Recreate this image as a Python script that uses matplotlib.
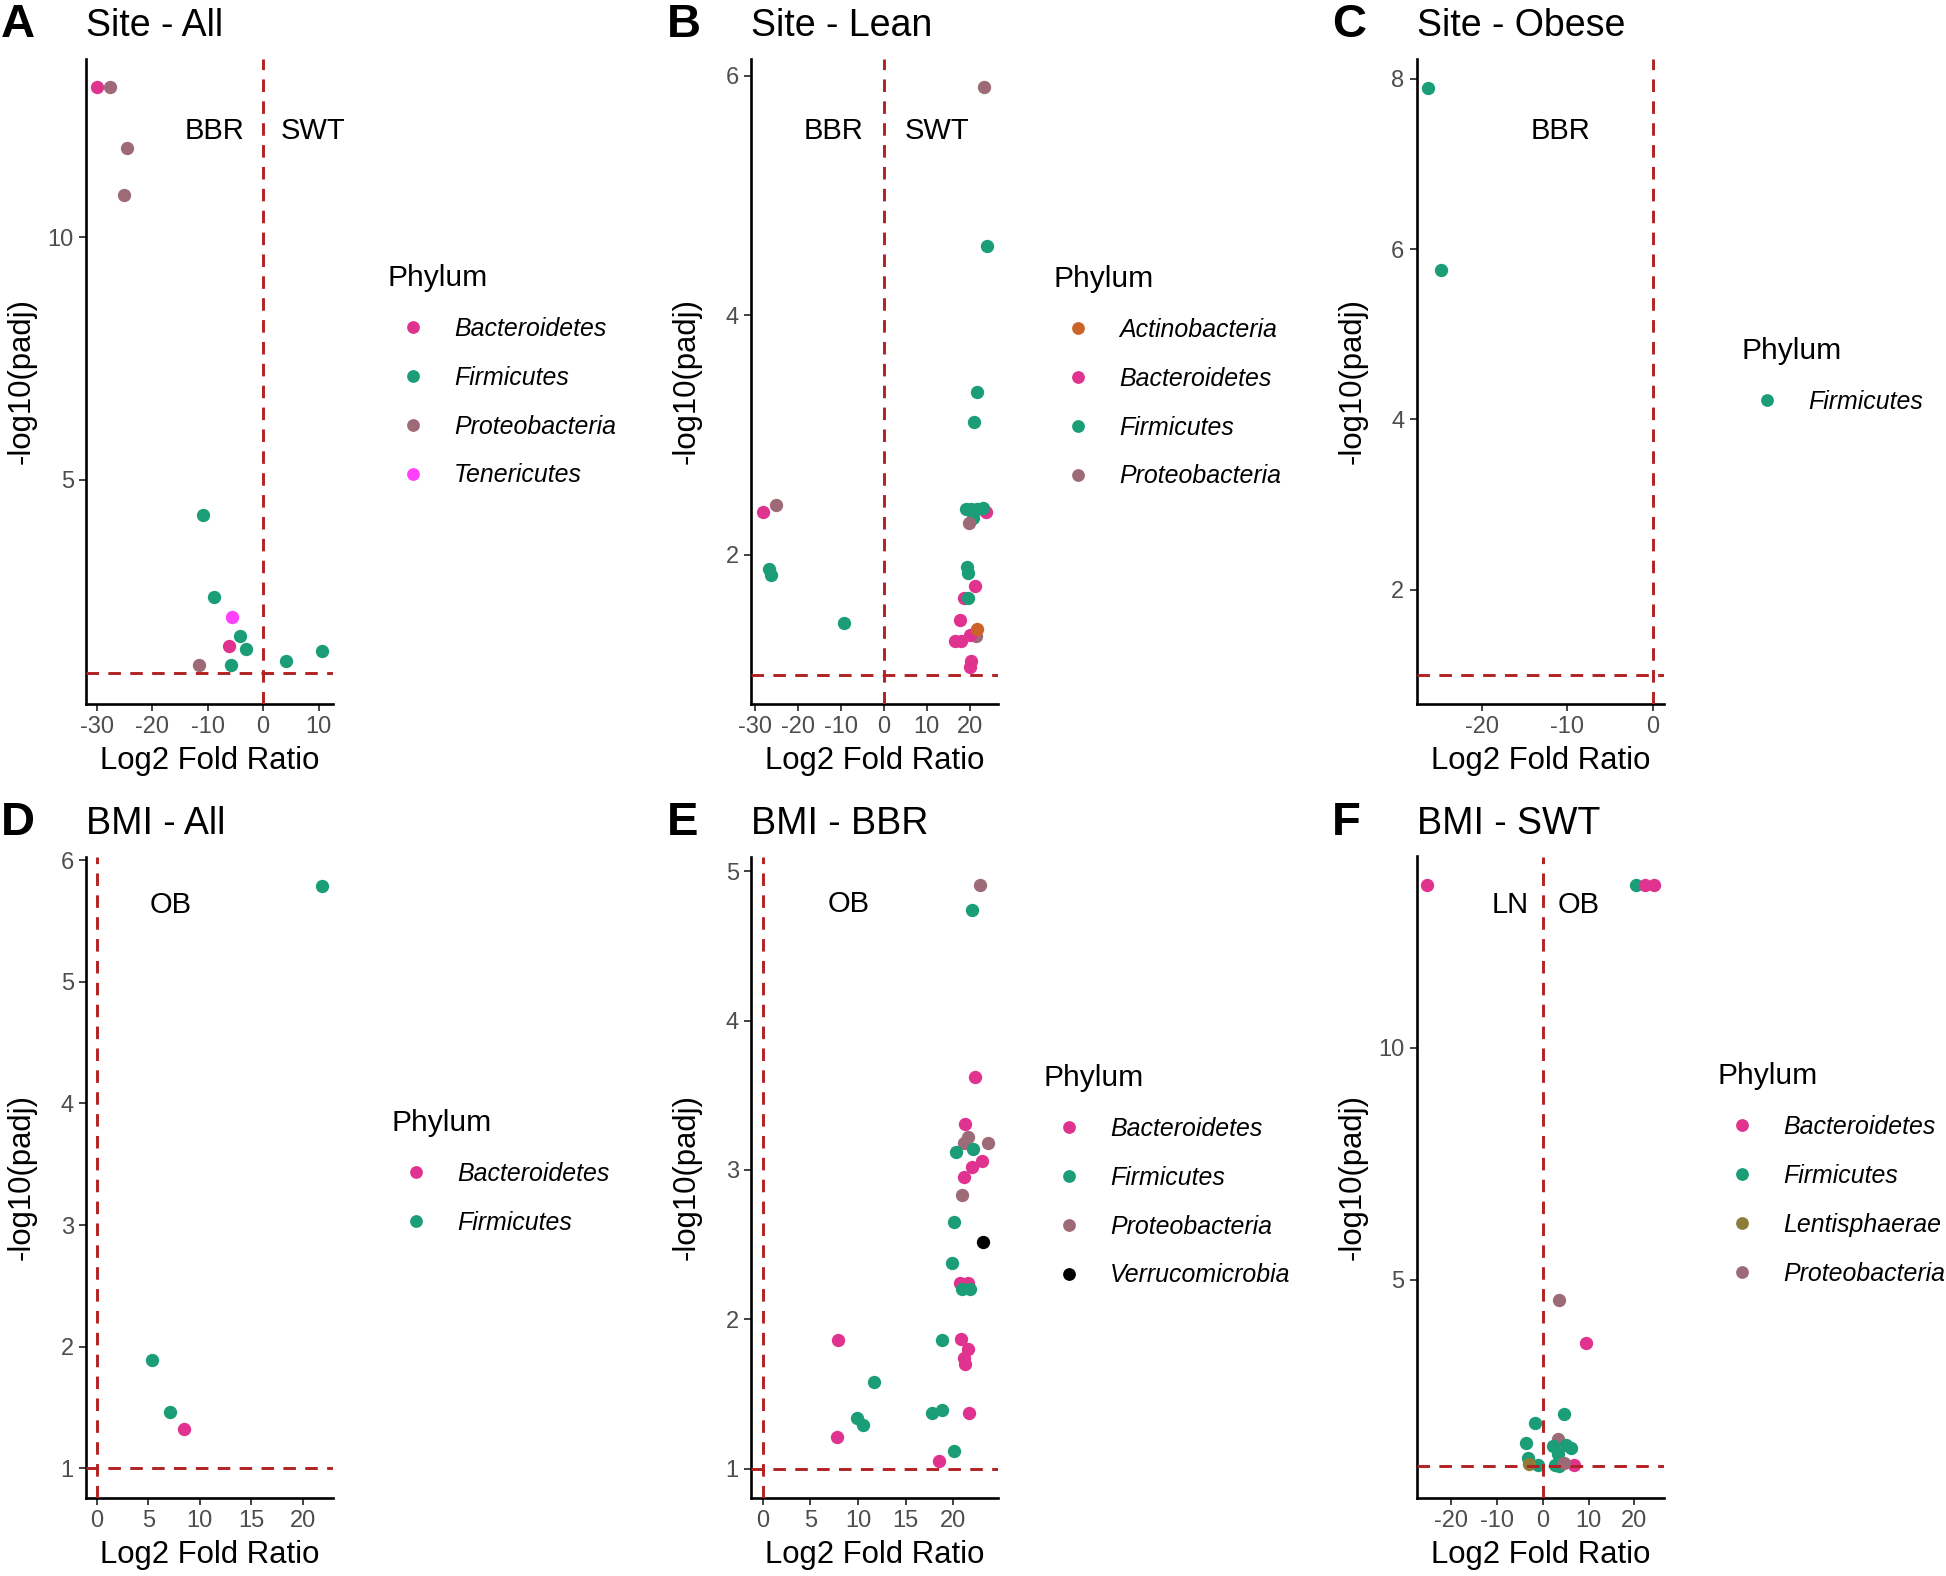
import matplotlib
matplotlib.use('Agg')
import matplotlib.pyplot as plt
from matplotlib.lines import Line2D

plt.rcParams['font.family'] = ['Liberation Sans', 'DejaVu Sans']
plt.rcParams['axes.unicode_minus'] = False

COLORS = {
    'Actinobacteria': '#CC6328',
    'Bacteroidetes': '#E0338F',
    'Firmicutes': '#1B9E77',
    'Lentisphaerae': '#8C7E3A',
    'Proteobacteria': '#9D6B77',
    'Tenericutes': '#FF40FF',
    'Verrucomicrobia': '#000000',
}
BAC, FIR, PRO, TEN, ACT, LEN, VER = ('Bacteroidetes', 'Firmicutes', 'Proteobacteria',
                                     'Tenericutes', 'Actinobacteria', 'Lentisphaerae',
                                     'Verrucomicrobia')

# ---------------- data ----------------
# A: Site - All
a_x = [-30.0, -27.6, -24.6, -25.1, -10.8, -8.8, -5.6, -4.1, -6.05, -3.0, -11.6, -5.7, 4.1, 10.6]
a_y = [13.1, 13.1, 11.85, 10.87, 4.28, 2.58, 2.17, 1.78, 1.57, 1.50, 1.17, 1.17, 1.26, 1.46]
a_phy = [BAC, PRO, PRO, PRO, FIR, FIR, TEN, FIR, BAC, FIR, PRO, FIR, FIR, FIR]

# B: Site - Lean
b_x = [23.3, 24.1, 21.8, 21.0, 23.8, 19.2, 20.4, 21.6, 23.1, 20.8, 19.8,
       19.3, 19.6, 21.2, 18.8, 19.6, 17.7, 21.4, 20.0, 21.6, 16.5, 18.1, 20.4, 20.0,
       -28.1, -25.1, -26.7, -26.3, -9.2]
b_y = [5.91, 4.58, 3.36, 3.11, 2.36, 2.38, 2.38, 2.38, 2.39, 2.31, 2.27,
       1.90, 1.85, 1.74, 1.64, 1.64, 1.46, 1.32, 1.33, 1.38, 1.28, 1.28, 1.11, 1.06,
       2.36, 2.42, 1.88, 1.83, 1.43]
b_phy = [PRO, FIR, FIR, FIR, BAC, FIR, FIR, FIR, FIR, FIR, PRO,
         FIR, FIR, BAC, BAC, FIR, BAC, PRO, BAC, ACT, BAC, BAC, BAC, BAC,
         BAC, PRO, FIR, FIR, FIR]

# C: Site - Obese
c_x = [-26.3, -24.8]
c_y = [7.89, 5.75]
c_phy = [FIR, FIR]

# D: BMI - All
d_x = [21.85, 5.35, 7.1, 8.5]
d_y = [5.79, 1.89, 1.46, 1.32]
d_phy = [FIR, FIR, FIR, BAC]

# E: BMI - BBR
e_x = [22.8, 22.0, 22.3, 21.2, 21.6, 21.1, 23.6, 22.1, 20.3, 23.0, 22.0, 21.1, 20.9,
       20.1, 23.1, 19.9, 20.7, 21.5, 20.9, 21.8, 7.9, 18.8, 20.8, 21.6, 21.1, 21.2,
       11.7, 9.9, 10.5, 17.8, 18.8, 21.7, 7.8, 20.1, 18.5]
e_y = [4.91, 4.74, 3.62, 3.31, 3.22, 3.18, 3.18, 3.14, 3.12, 3.06, 3.02, 2.95, 2.83,
       2.65, 2.52, 2.38, 2.24, 2.24, 2.20, 2.20, 1.86, 1.86, 1.87, 1.80, 1.74, 1.70,
       1.58, 1.34, 1.29, 1.37, 1.39, 1.37, 1.21, 1.12, 1.05]
e_phy = [PRO, FIR, BAC, BAC, PRO, PRO, PRO, FIR, FIR, BAC, BAC, BAC, PRO,
         FIR, VER, FIR, BAC, BAC, FIR, FIR, BAC, FIR, BAC, BAC, BAC, BAC,
         FIR, FIR, FIR, FIR, FIR, BAC, BAC, FIR, BAC]

# F: BMI - SWT
f_x = [-25.3, 20.4, 22.4, 24.2, 3.6, 9.4, 4.7, -1.8, -3.6, 3.4, 2.2, 5.0, 6.1,
       3.3, -3.2, -1.1, 2.6, 3.6, 6.7, 4.6, -3.15]
f_y = [13.5, 13.5, 13.5, 13.5, 4.57, 3.64, 2.11, 1.92, 1.50, 1.58, 1.43, 1.46, 1.39,
       1.25, 1.17, 1.01, 1.02, 1.0, 1.01, 1.06, 1.05]
f_phy = [BAC, FIR, BAC, BAC, PRO, BAC, FIR, FIR, FIR, PRO, FIR, FIR, FIR,
         FIR, FIR, FIR, FIR, FIR, BAC, PRO, LEN]

titles = ['Site - All', 'Site - Lean', 'Site - Obese', 'BMI - All', 'BMI - BBR', 'BMI - SWT']
letters = ['A', 'B', 'C', 'D', 'E', 'F']
xlims = [(-31.9, 12.6), (-30.9, 26.6), (-27.6, 1.29), (-1.03, 22.9), (-1.22, 24.7), (-27.6, 26.4)]
ylims = [(0.37, 13.68), (0.755, 6.14), (0.66, 8.23), (0.76, 6.03), (0.806, 5.10), (0.32, 14.11)]
xticks = [[-30, -20, -10, 0, 10], [-30, -20, -10, 0, 10, 20], [-20, -10, 0],
          [0, 5, 10, 15, 20], [0, 5, 10, 15, 20], [-20, -10, 0, 10, 20]]
yticks = [[5, 10], [2, 4, 6], [2, 4, 6, 8], [1, 2, 3, 4, 5, 6], [1, 2, 3, 4, 5], [5, 10]]
annots = [[('BBR', -8.7, 12.2), ('SWT', 9.0, 12.2)],
          [('BBR', -11.8, 5.54), ('SWT', 12.3, 5.54)],
          [('BBR', -10.8, 7.38)],
          [('OB', 7.2, 5.63)],
          [('OB', 9.0, 4.78)],
          [('LN', -7.2, 13.07), ('OB', 7.8, 13.07)]]
data = [(a_x, a_y, a_phy), (b_x, b_y, b_phy), (c_x, c_y, c_phy),
        (d_x, d_y, d_phy), (e_x, e_y, e_phy), (f_x, f_y, f_phy)]

# ---------------- layout (pixels) ----------------
W, H = 1946, 1576
fig = plt.figure(figsize=(W / 100, H / 100), dpi=100)
col_left = [86, 751, 1416.7]
ax_w = 247
row_top = [59, 856.5]
row_bot = [704, 1497.5]
letter_x = [1, 667, 1332]
letter_base = [37, 835]
legend_anchor = [(388, 264), (1053, 265), (1742, 337.3),
                 (391.5, 1109), (1044, 1064), (1717, 1062.1)]

RED = '#B22222'
for i in range(6):
    r, c = divmod(i, 3)
    l = col_left[c]
    t, b = row_top[r], row_bot[r]
    ax = fig.add_axes([l / W, 1 - b / H, ax_w / W, (b - t) / H])
    xs, ys, ph = data[i]
    for x, y, p in zip(xs, ys, ph):
        ax.plot([x], [y], 'o', ms=9.6, mew=0, color=COLORS[p], zorder=2)
    ax.axhline(1, color=RED, lw=2.1, ls=(0, (4.3, 3.2)), zorder=3)
    ax.axvline(0, color=RED, lw=2.1, ls=(0, (4.3, 3.2)), zorder=3)
    for txt, tx, ty in annots[i]:
        ax.text(tx, ty, txt, ha='center', va='center', fontsize=21, color='black')
    ax.set_xlim(*xlims[i])
    ax.set_ylim(*ylims[i])
    ax.set_xticks(xticks[i])
    ax.set_yticks(yticks[i])
    for s in ['top', 'right']:
        ax.spines[s].set_visible(False)
    for s in ['left', 'bottom']:
        ax.spines[s].set_linewidth(1.9)
        ax.spines[s].set_color('black')
    ax.tick_params(axis='both', length=5.3, width=1.3, color='#333333',
                   labelsize=17, labelcolor='#4D4D4D', pad=3.5)
    ax.set_xlabel('Log2 Fold Ratio', fontsize=22.4)
    ax.xaxis.set_label_coords(0.5, -42.5 / (b - t))
    ax.set_ylabel('-log10(padj)', fontsize=22.4, va='center')
    ax.yaxis.set_label_coords(-0.26, 0.5)
    ax.set_title(titles[i], loc='left', fontsize=27, pad=16.4)
    fig.text(letter_x[c] / W, 1 - letter_base[r] / H, letters[i], fontsize=34,
             fontweight='bold', ha='left', va='baseline')
    cats = sorted(set(ph))
    handles = [Line2D([], [], marker='o', ls='none', ms=9.2, mew=0, color=COLORS[k])
               for k in cats]
    lx, ly = legend_anchor[i]
    ax.legend(handles, cats, loc='upper left', bbox_to_anchor=(lx / W, 1 - ly / H),
              bbox_transform=fig.transFigure, frameon=False, borderaxespad=0,
              borderpad=0, title='Phylum', alignment='left',
              handlelength=2.0, handletextpad=0.65, labelspacing=1.0,
              prop={'size': 17.9, 'style': 'italic'}, title_fontsize=21.6)

fig.savefig('out.png', dpi=100)
